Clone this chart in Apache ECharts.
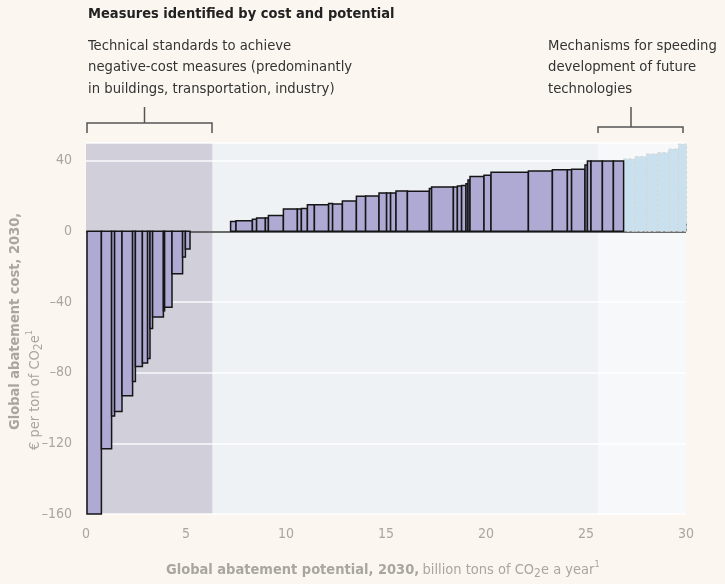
<!DOCTYPE html>
<html>
<head>
<meta charset="utf-8">
<script src="https://cdn.jsdelivr.net/npm/echarts@6/dist/echarts.min.js"></script>
<style>
  html, body { margin: 0; padding: 0; background: #fbf7f0; }
  #chart { width: 725px; height: 584px; }
</style>
</head>
<body>
<div id="chart"></div>
<script>
// measures: start / end of potential (bn t CO2e) and cost (EUR per t)
var measureStart = [0.05, 0.77, 1.28, 1.43, 1.8, 2.33, 2.47, 2.82, 3.08, 3.2, 3.33, 3.87, 3.93, 4.3, 4.83, 4.97,
    7.23, 7.5, 8.32, 8.53, 8.97, 9.12, 9.87, 10.57, 10.77, 11.07, 11.42, 12.13, 12.33, 12.82, 13.52, 13.98,
    14.65, 15.03, 15.23, 15.5, 16.07, 17.17, 17.28, 18.37, 18.57, 18.78, 19.0, 19.1, 19.2, 19.9, 20.25,
    22.12, 23.32, 24.07, 24.28, 24.95, 25.07, 25.25, 25.82, 26.37];
var measureEnd = [0.77, 1.28, 1.43, 1.8, 2.33, 2.47, 2.82, 3.08, 3.2, 3.33, 3.87, 3.93, 4.3, 4.83, 4.97, 5.2,
    7.5, 8.32, 8.53, 8.97, 9.12, 9.87, 10.57, 10.77, 11.07, 11.42, 12.13, 12.33, 12.82, 13.52, 13.98, 14.65,
    15.03, 15.23, 15.5, 16.07, 17.17, 17.28, 18.37, 18.57, 18.78, 19.0, 19.1, 19.2, 19.9, 20.25, 22.12,
    23.32, 24.07, 24.28, 24.95, 25.07, 25.25, 25.82, 26.37, 26.88];
var measureCost = [-160, -123, -104.5, -102, -93, -85, -76.5, -74.5, -72, -55, -48.5, -45, -43, -24, -14.5, -10,
    5.5, 6, 6.8, 7.6, 7.6, 8.9, 12.7, 12.7, 12.9, 15, 15, 15.7, 15.5, 17.2, 19.8, 20,
    21.7, 21.7, 21.7, 22.9, 22.7, 24.2, 25.1, 25.1, 25.7, 25.9, 27, 29, 31.1, 31.7, 33.4,
    34.2, 34.9, 34.9, 35.1, 37.6, 39.8, 39.8, 39.8, 39.8];

// future technologies (dashed)
var futureStart = [26.88, 27.47, 28.03, 28.58, 29.13, 29.62];
var futureEnd = [27.47, 28.03, 28.58, 29.13, 29.62, 30.03];
var futureCost = [41, 42.3, 43.8, 44.5, 46.6, 49.4];

// policy zones on the x axis
var zoneStart = [0, 6.33, 25.6];
var zoneEnd = [6.33, 25.6, 30];
var zoneColor = ['#d1cfda', '#eff2f5', '#f6f8fa'];

var yMin = -160, yMax = 50, yStep = 40;
var xMin = 0, xMax = 30, xStep = 5;

var FONT = '"Liberation Sans Narrow", "DejaVu Sans Condensed", "Noto Sans", sans-serif';
var GREY = '#a9a5a1';

var measureData = [], futureData = [], zoneData = [];
for (var i = 0; i < measureCost.length; i++) measureData.push([measureStart[i], measureEnd[i], measureCost[i]]);
for (var i = 0; i < futureCost.length; i++) futureData.push([futureStart[i], futureEnd[i], futureCost[i]]);
for (var i = 0; i < zoneStart.length; i++) zoneData.push([zoneStart[i], zoneEnd[i], i]);

function barItem(style) {
    return function (params, api) {
        var p0 = api.coord([api.value(0), 0]);
        var p1 = api.coord([api.value(1), api.value(2)]);
        return {
            type: 'rect',
            shape: { x: p0[0], y: Math.min(p0[1], p1[1]), width: p1[0] - p0[0], height: Math.abs(p1[1] - p0[1]) },
            style: style
        };
    };
}

var myChart = echarts.init(document.getElementById('chart'));

var option = {
    backgroundColor: '#fbf7f0',
    animation: false,
    grid: { left: 86, right: 39, top: 143, bottom: 70 },
    xAxis: {
        type: 'value', min: xMin, max: xMax, interval: xStep,
        axisLine: { show: false },
        axisTick: { show: true, inside: true, length: 8, lineStyle: { color: '#222', width: 1 } },
        splitLine: { show: false },
        axisLabel: { color: GREY, fontSize: 14, fontFamily: FONT, margin: 13 }
    },
    yAxis: {
        type: 'value', min: yMin, max: yMax, interval: yStep, z: 3,
        axisLine: { show: false },
        axisTick: { show: false },
        splitLine: { show: true, lineStyle: { color: 'rgba(255,255,255,0.9)', width: 1.5 } },
        axisLabel: {
            color: GREY, fontSize: 14, fontFamily: FONT, margin: 14,
            formatter: function (v) {
                if (v > 40) return '';
                return v < 0 ? '\u2013' + (-v) : String(v);
            }
        }
    },
    series: [
        {
            type: 'custom', name: 'zones', z: 1, silent: true,
            data: zoneData,
            encode: { x: [0, 1] },
            renderItem: function (params, api) {
                var p0 = api.coord([api.value(0), yMax]);
                var p1 = api.coord([api.value(1), yMin]);
                return {
                    type: 'rect',
                    shape: { x: p0[0], y: p0[1], width: p1[0] - p0[0], height: p1[1] - p0[1] },
                    style: { fill: zoneColor[api.value(2)] }
                };
            }
        },
        {
            type: 'custom', name: 'future', z: 5, silent: true,
            data: futureData,
            encode: { x: [0, 1], y: 2 },
            renderItem: barItem({ fill: '#c9e1ee', stroke: '#d4d4d4', lineWidth: 1, lineDash: [3, 2] })
        },
        {
            type: 'custom', name: 'measures', z: 6, silent: true,
            data: measureData,
            encode: { x: [0, 1], y: 2 },
            renderItem: barItem({ fill: '#aeaad4', stroke: '#151515', lineWidth: 1.5 }),
            markLine: {
                silent: true, symbol: 'none', label: { show: false },
                lineStyle: { color: '#3a3a3a', width: 1.5, type: 'solid' },
                data: [{ yAxis: 0 }]
            }
        }
    ],
    graphic: [
        { type: 'text', x: 88, y: 14, style: { text: 'Measures identified by cost and potential', font: 'bold 14.5px ' + FONT, fill: '#222', textVerticalAlign: 'middle' } },
        { type: 'text', x: 88, y: 35, style: { text: 'Technical standards to achieve\nnegative-cost measures (predominantly\nin buildings, transportation, industry)', font: '14.7px ' + FONT, fill: '#333', lineHeight: 21.5, textVerticalAlign: 'top' } },
        { type: 'text', x: 548, y: 35, style: { text: 'Mechanisms for speeding\ndevelopment of future\ntechnologies', font: '14.7px ' + FONT, fill: '#333', lineHeight: 21.5, textVerticalAlign: 'top' } },
        { type: 'text', x: 276, y: 287, style: { text: 'Stable, internationally\nharmonized carbon regulations\nfor power and industry', font: '15px ' + FONT, fill: '#333', lineHeight: 21.5, textVerticalAlign: 'top' } },
        { type: 'text', x: 276, y: 360, style: { text: 'International system linked to overall\nagenda of developing world, governing\nforestry and land use', font: '15px ' + FONT, fill: '#333', lineHeight: 21.5, textVerticalAlign: 'top' } },
        // brackets
        { type: 'polyline', shape: { points: [[87, 133], [87, 123], [212, 123], [212, 133]] }, style: { stroke: '#555', lineWidth: 1.5, fill: null } },
        { type: 'line', shape: { x1: 144.5, y1: 107, x2: 144.5, y2: 123 }, style: { stroke: '#555', lineWidth: 1.5 } },
        { type: 'polyline', shape: { points: [[598, 133], [598, 127], [683, 127], [683, 133]] }, style: { stroke: '#555', lineWidth: 1.5, fill: null } },
        { type: 'line', shape: { x1: 631, y1: 107, x2: 631, y2: 127 }, style: { stroke: '#555', lineWidth: 1.5 } },
        { type: 'polyline', shape: { points: [[214, 242], [214, 253], [595, 253], [595, 242]] }, style: { stroke: '#333', lineWidth: 1.5, fill: null } },
        { type: 'line', shape: { x1: 390, y1: 253, x2: 390, y2: 284 }, style: { stroke: '#333', lineWidth: 1.5 } },
        // axis names
        {
            type: 'text', x: 166, y: 570,
            style: {
                text: '{b|Global abatement potential, 2030,} {r|billion tons of CO}{sub|2}{r|e a year}{sup|1}',
                fill: GREY, textVerticalAlign: 'middle',
                rich: {
                    b: { font: 'bold 14.5px ' + FONT, fill: GREY, lineHeight: 20 },
                    r: { font: '14.5px ' + FONT, fill: GREY, lineHeight: 20 },
                    sub: { font: '12px ' + FONT, fill: GREY, lineHeight: 10, verticalAlign: 'bottom' },
                    sup: { font: '9px ' + FONT, fill: GREY, lineHeight: 10, verticalAlign: 'top' }
                }
            }
        },
        {
            type: 'text', x: 15, y: 430, rotation: Math.PI / 2,
            style: { text: 'Global abatement cost, 2030,', font: 'bold 14.5px ' + FONT, fill: GREY, textVerticalAlign: 'middle' }
        },
        {
            type: 'text', x: 35, y: 450, rotation: Math.PI / 2,
            style: {
                text: '{r|\u20ac per ton of CO}{sub|2}{r|e}{sup|1}',
                textVerticalAlign: 'middle',
                rich: {
                    r: { font: '14.5px ' + FONT, fill: GREY, lineHeight: 20 },
                    sub: { font: '12px ' + FONT, fill: GREY, lineHeight: 10, verticalAlign: 'bottom' },
                    sup: { font: '9px ' + FONT, fill: GREY, lineHeight: 10, verticalAlign: 'top' }
                }
            }
        }
    ]
};

myChart.setOption(option);
</script>
</body>
</html>
